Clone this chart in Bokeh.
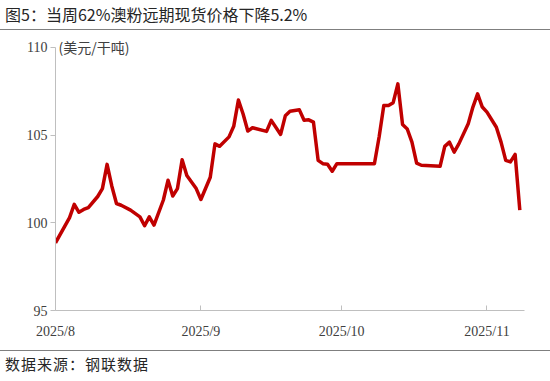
import pandas as pd
from bokeh.plotting import figure
from bokeh.models import Label, FixedTicker, Range1d, Div
from bokeh.layouts import column
from bokeh.embed import file_html
from bokeh.resources import INLINE

title_text = "图5：当周62%澳粉远期现货价格下降5.2%"
source_text = "数据来源：钢联数据"
unit_text = "(美元/干吨)"

dates = [
    "2025-08-01", "2025-08-04", "2025-08-05", "2025-08-06", "2025-08-07", "2025-08-08",
    "2025-08-10", "2025-08-11", "2025-08-12", "2025-08-13", "2025-08-14", "2025-08-15",
    "2025-08-17", "2025-08-19", "2025-08-20", "2025-08-21", "2025-08-22", "2025-08-24",
    "2025-08-25", "2025-08-26", "2025-08-27", "2025-08-28", "2025-08-29", "2025-08-31",
    "2025-09-01", "2025-09-03", "2025-09-04", "2025-09-05", "2025-09-07", "2025-09-08",
    "2025-09-09", "2025-09-10", "2025-09-11", "2025-09-12", "2025-09-15", "2025-09-16",
    "2025-09-18", "2025-09-19", "2025-09-20", "2025-09-22", "2025-09-23", "2025-09-24",
    "2025-09-25", "2025-09-26", "2025-09-27", "2025-09-28", "2025-09-29", "2025-09-30",
    "2025-10-08", "2025-10-09", "2025-10-10", "2025-10-11", "2025-10-12", "2025-10-13",
    "2025-10-14", "2025-10-15", "2025-10-16", "2025-10-17", "2025-10-18", "2025-10-22",
    "2025-10-23", "2025-10-24", "2025-10-25", "2025-10-26", "2025-10-28", "2025-10-29",
    "2025-10-30", "2025-10-31", "2025-11-01", "2025-11-03", "2025-11-04", "2025-11-05",
    "2025-11-06", "2025-11-07", "2025-11-08",
]
prices = [
    98.86, 100.30, 101.05, 100.60, 100.76, 100.87,
    101.50, 101.95, 103.33, 102.10, 101.10, 101.00,
    100.72, 100.34, 99.83, 100.34, 99.87, 101.30,
    102.43, 101.53, 101.95, 103.60, 102.70, 101.95,
    101.33, 102.60, 104.50, 104.36, 104.90, 105.50,
    107.00, 106.20, 105.23, 105.42, 105.21, 105.84,
    105.04, 106.10, 106.36, 106.44, 105.85, 105.87,
    105.74, 103.56, 103.37, 103.34, 102.94, 103.37,
    103.37, 104.89, 106.69, 106.69, 106.85, 107.92,
    105.60, 105.35, 104.60, 103.40, 103.28, 103.22,
    104.36, 104.60, 104.03, 104.50, 105.65, 106.60,
    107.35, 106.60, 106.31, 105.45, 104.60, 103.56,
    103.47, 103.90, 100.72,
]
month_ticks = ["2025-08-01", "2025-09-01", "2025-10-01", "2025-11-01"]
month_labels = ["2025/8", "2025/9", "2025/10", "2025/11"]
y_ticks = [95, 100, 105, 110]

x = pd.to_datetime(dates)
tick_ms = [pd.Timestamp(d).value // 10**6 for d in month_ticks]
x_start = pd.Timestamp("2025-08-01")
x_end = pd.Timestamp("2025-11-09")

cjk = "'Noto Sans CJK SC', sans-serif"

title_div = Div(text=title_text, width=550, height=30, margin=(0, 0, 0, 0),
                styles={"font-family": cjk, "font-size": "16px", "color": "#262626",
                        "line-height": "29px", "padding-left": "5px",
                        "box-sizing": "border-box", "white-space": "nowrap",
                        "border-bottom": "1px solid #7f7f7f", "background": "white"})

p = figure(width=550, height=320, x_axis_type="datetime",
           output_backend="svg", toolbar_location=None,
           min_border_left=55, min_border_right=26,
           min_border_top=2, min_border_bottom=40, margin=(0, 0, 0, 0))
p.x_range = Range1d(x_start, x_end)
p.y_range = Range1d(95, 110.85)
p.outline_line_color = None
p.grid.grid_line_color = None
p.background_fill_color = "white"
p.border_fill_color = "white"

p.line(x, prices, line_color="#C00000", line_width=3.5, line_join="round")

axis_font = "Liberation Serif"
p.xaxis.ticker = FixedTicker(ticks=tick_ms)
p.xaxis.major_label_overrides = {t: l for t, l in zip(tick_ms, month_labels)}
p.xaxis.minor_tick_line_color = None
p.xaxis.major_tick_in = 5
p.xaxis.major_tick_out = 0
p.xaxis.axis_line_color = "#BFBFBF"
p.xaxis.major_tick_line_color = "#BFBFBF"
p.xaxis.major_label_text_font = axis_font
p.xaxis.major_label_text_font_size = "14px"
p.xaxis.major_label_text_color = "#404040"
p.xaxis.major_label_standoff = 13

p.yaxis.ticker = FixedTicker(ticks=y_ticks)
p.yaxis.bounds = (95, 110)
p.yaxis.minor_tick_line_color = None
p.yaxis.major_tick_in = 0
p.yaxis.major_tick_out = 5
p.yaxis.axis_line_color = "#BFBFBF"
p.yaxis.major_tick_line_color = "#BFBFBF"
p.yaxis.major_label_text_font = axis_font
p.yaxis.major_label_text_font_size = "14px"
p.yaxis.major_label_text_color = "#404040"
p.yaxis.major_label_standoff = 3

p.add_layout(Label(x=3, y=110, text=unit_text, x_units="screen",
                   text_font="Noto Sans CJK SC", text_font_size="14px",
                   text_color="#404040", text_baseline="middle"))

source_div = Div(text=source_text, width=550, height=31, margin=(0, 0, 0, 0),
                 styles={"font-family": cjk, "font-size": "15px", "color": "#262626",
                         "line-height": "26px", "padding-left": "5px",
                         "letter-spacing": "1px",
                         "box-sizing": "border-box", "white-space": "nowrap",
                         "border-top": "1px solid #7f7f7f", "background": "white"})

layout = column(title_div, p, source_div, spacing=0, margin=(0, 0, 0, 0))
open("out.html", "w").write(file_html(layout, INLINE))
